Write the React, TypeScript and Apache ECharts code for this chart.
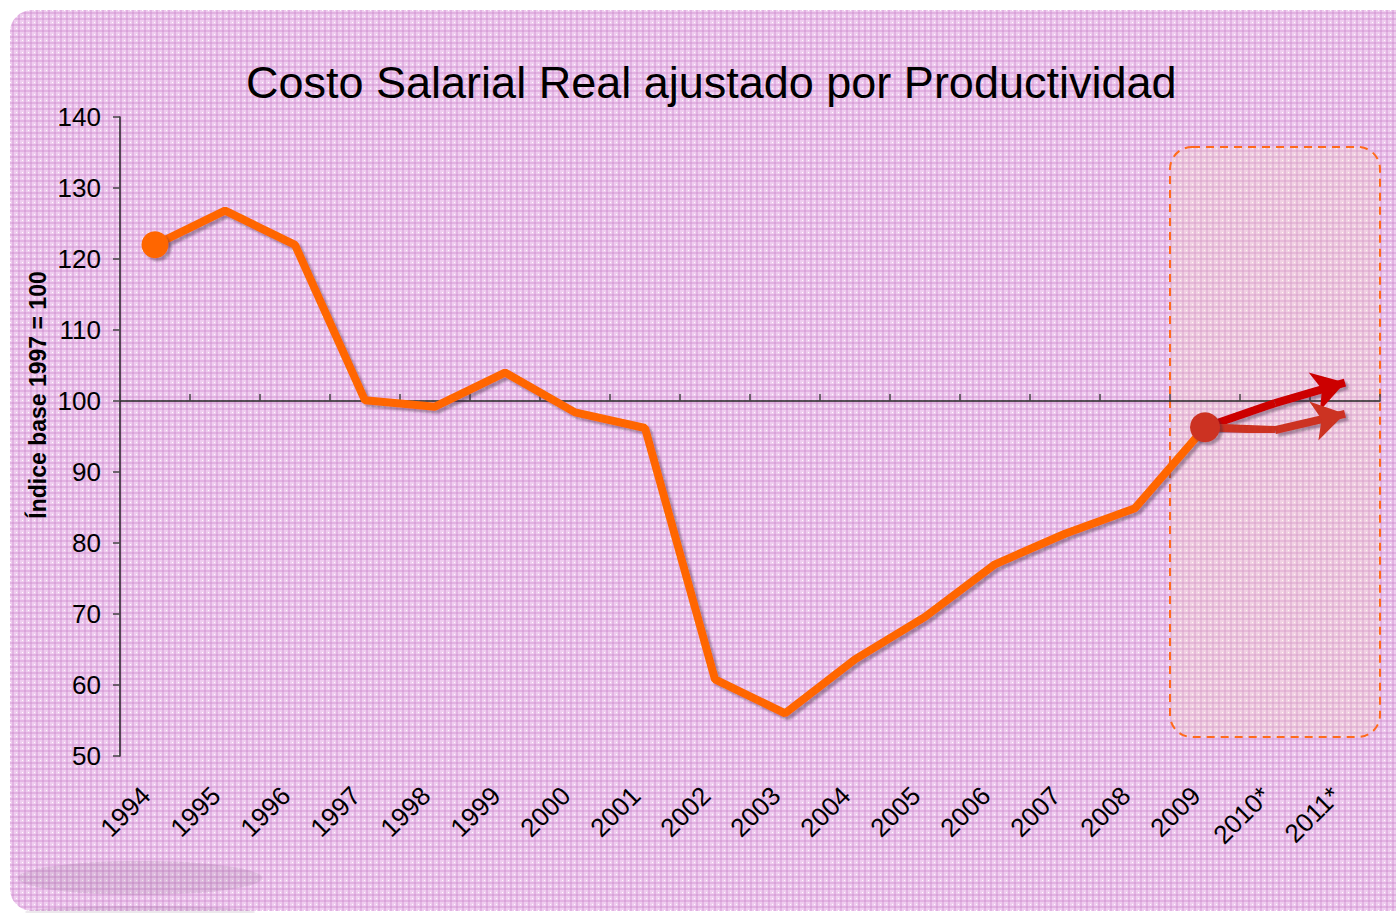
import React, { useEffect, useRef } from "react";
import * as echarts from "echarts";

const categories = ["1994", "1995", "1996", "1997", "1998", "1999", "2000", "2001", "2002", "2003", "2004", "2005", "2006", "2007", "2008", "2009", "2010*", "2011*"];
const realValues = [122.0, 126.8, 122.0, 100.1, 99.2, 104.0, 98.4, 96.2, 60.8, 56.0, 63.6, 69.6, 77.0, 81.3, 84.9, 96.3];
const upperProjection = [96.3, 99.7, 102.6];
const lowerProjection = [96.3, 95.9, 98.2];
const yTicks = { min: 50, max: 140, interval: 10 };
const baseLine = 100;

const FONT = 'Arial, "Liberation Sans", sans-serif';
const GRID = { left: 120, right: 16, top: 117, bottom: 157 };
const H = 913;
const W = 1396;

function makePattern(): string {
  const c = document.createElement("canvas");
  c.width = 6;
  c.height = 6;
  const g = c.getContext("2d")!;
  g.fillStyle = "#EFCDEF";
  g.fillRect(0, 0, 6, 6);
  g.fillStyle = "#E2B2E2";
  g.fillRect(0, 0, 6, 2);
  g.fillRect(0, 0, 2, 6);
  g.fillStyle = "#D8A2D8";
  g.fillRect(0, 0, 2, 2);
  g.fillStyle = "#FFFFFF";
  g.fillRect(4, 4, 1, 1);
  return c.toDataURL();
}

function pad(arr: number[], start: number): (number | null)[] {
  const out: (number | null)[] = categories.map(() => null);
  arr.forEach((v, i) => (out[start + i] = v));
  return out;
}

export default function App() {
  const ref = useRef<HTMLDivElement>(null);
  useEffect(() => {
    if (!ref.current) return;
    const chart = echarts.init(ref.current, null, { renderer: "svg" });
    const gridH = H - GRID.top - GRID.bottom;
    const axisOffset = -gridH * (baseLine - yTicks.min) / (yTicks.max - yTicks.min);
    const projStart = realValues.length - 1;
    const shadow = { shadowColor: "rgba(60,40,60,0.4)", shadowBlur: 2, shadowOffsetX: 3, shadowOffsetY: 3 };
    const pattern = makePattern();

    chart.setOption({
      animation: false,
      title: {
        text: "Costo Salarial Real ajustado por Productividad",
        left: 241,
        top: 55,
        textStyle: { fontFamily: FONT, fontSize: 45, fontWeight: "normal", color: "#000" },
      },
      graphic: [
        {
          type: "rect",
          z: -100,
          shape: { x: 10, y: 10, width: W + 20, height: H - 12, r: 22 },
          style: { fill: { image: pattern, repeat: "repeat", imageWidth: 6, imageHeight: 6 } as any },
        },
        {
          type: "ellipse",
          z: -90,
          shape: { cx: 140, cy: 878, rx: 122, ry: 17 },
          style: { fill: "rgba(110,70,110,0.12)" },
        },
        {
          type: "ellipse",
          z: -90,
          shape: { cx: 140, cy: 912, rx: 115, ry: 6 },
          style: { fill: "rgba(110,70,110,0.12)" },
        },
        {
          type: "rect",
          z: -50,
          shape: { x: 1170, y: 147, width: 210, height: 590, r: 22 },
          style: { fill: "rgba(255,230,170,0.16)", stroke: "#FF6A1A", lineWidth: 2, lineDash: [8, 6] },
        },
        {
          type: "text",
          x: 38,
          y: 395,
          rotation: Math.PI / 2,
          style: {
            text: "Índice base 1997 = 100",
            fontFamily: FONT,
            fontSize: 23,
            fontWeight: "bold",
            fill: "#000",
            align: "center",
            verticalAlign: "middle",
          },
        },
      ],
      grid: { ...GRID, containLabel: false },
      xAxis: [
        {
          type: "category",
          data: categories,
          position: "bottom",
          axisLine: { show: false },
          axisTick: { show: false },
          axisLabel: {
            rotate: 45,
            fontSize: 26,
            fontFamily: FONT,
            color: "#000",
            margin: 26,
            interval: 0,
            padding: [0, 13, 0, 0],
          },
        },
        {
          type: "category",
          data: categories,
          position: "bottom",
          offset: axisOffset,
          axisLine: { show: true, lineStyle: { color: "#222", width: 1.5 } },
          axisTick: { show: true, inside: true, length: 7, interval: 0, lineStyle: { color: "#444", width: 1.5 } },
          axisLabel: { show: false },
        },
      ],
      yAxis: {
        type: "value",
        min: yTicks.min,
        max: yTicks.max,
        interval: yTicks.interval,
        axisLine: { show: true, lineStyle: { color: "#222", width: 1.5 } },
        axisTick: { show: true, length: 7, lineStyle: { color: "#444", width: 1.5 } },
        splitLine: { show: false },
        axisLabel: { fontSize: 26, fontFamily: FONT, color: "#000", margin: 19 },
      },
      series: [
        {
          type: "line",
          data: realValues,
          symbol: "none",
          z: 3,
          lineStyle: { color: "#FF6600", width: 8, ...shadow },
        },
        {
          type: "line",
          data: pad(upperProjection.slice(0, 2), projStart),
          symbol: "none",
          z: 4,
          lineStyle: { color: "#CC0000", width: 8, ...shadow },
          markLine: {
            silent: true,
            symbol: ["none", "arrow"],
            symbolSize: [30, 32],
            label: { show: false },
            lineStyle: { color: "#CC0000", width: 8, type: "solid", ...shadow },
            itemStyle: { color: "#CC0000", opacity: 1, ...shadow },
            data: [[
              { coord: [categories[projStart + 1], upperProjection[1]] },
              { coord: [categories[projStart + 2], upperProjection[2]] },
            ]],
          },
        },
        {
          type: "line",
          data: pad(lowerProjection.slice(0, 2), projStart),
          symbol: "none",
          z: 4,
          lineStyle: { color: "#CC3322", width: 8, ...shadow },
          markLine: {
            silent: true,
            symbol: ["none", "arrow"],
            symbolSize: [30, 32],
            label: { show: false },
            lineStyle: { color: "#CC3322", width: 8, type: "solid", ...shadow },
            itemStyle: { color: "#CC3322", opacity: 1, ...shadow },
            data: [[
              { coord: [categories[projStart + 1], lowerProjection[1]] },
              { coord: [categories[projStart + 2], lowerProjection[2]] },
            ]],
          },
        },
        {
          type: "scatter",
          data: pad([realValues[0]], 0),
          symbol: "circle",
          symbolSize: 27,
          z: 5,
          itemStyle: { color: "#FF6600", opacity: 1, ...shadow },
        },
        {
          type: "scatter",
          data: pad([realValues[projStart]], projStart),
          symbol: "circle",
          symbolSize: 30,
          z: 6,
          itemStyle: { color: "#CC3322", opacity: 1, ...shadow },
        },
      ],
    });
    return () => chart.dispose();
  }, []);

  return (
    <div
      ref={ref}
      style={{ position: "absolute", left: 0, top: 0, width: W, height: H, background: "#fff" }}
    />
  );
}
